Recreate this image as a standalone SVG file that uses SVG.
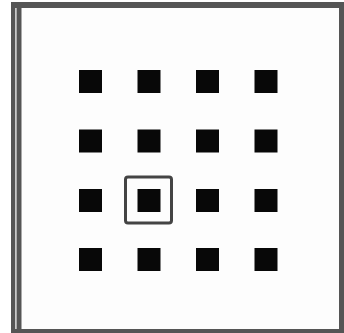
<svg xmlns="http://www.w3.org/2000/svg" width="344" height="333" viewBox="0 0 344 333">
  <style>
    .sq { fill: #080808; }
    .frame { fill: #555555; }
  </style>
  <rect x="0" y="0" width="344" height="333" fill="#ffffff"/>
  <g id="frame">
    <rect class="frame" x="11" y="2" width="333" height="331"/>
    <rect x="21.5" y="8" width="317.5" height="321" fill="#fdfdfd"/>
    <rect x="15.2" y="8" width="1.4" height="321" fill="#e6e6e6"/>
  </g>
  <g id="grid">
    <rect class="sq" x="79" y="70" width="23" height="23"/>
    <rect class="sq" x="137.5" y="70" width="23" height="23"/>
    <rect class="sq" x="196" y="70" width="23" height="23"/>
    <rect class="sq" x="254.5" y="70" width="23" height="23"/>
    <rect class="sq" x="79" y="129.5" width="23" height="23"/>
    <rect class="sq" x="137.5" y="129.5" width="23" height="23"/>
    <rect class="sq" x="196" y="129.5" width="23" height="23"/>
    <rect class="sq" x="254.5" y="129.5" width="23" height="23"/>
    <rect class="sq" x="79" y="189" width="23" height="23"/>
    <rect class="sq" x="137.5" y="189" width="23" height="23"/>
    <rect class="sq" x="196" y="189" width="23" height="23"/>
    <rect class="sq" x="254.5" y="189" width="23" height="23"/>
    <rect class="sq" x="79" y="248" width="23" height="23"/>
    <rect class="sq" x="137.5" y="248" width="23" height="23"/>
    <rect class="sq" x="196" y="248" width="23" height="23"/>
    <rect class="sq" x="254.5" y="248" width="23" height="23"/>
  </g>
  <g id="highlight">
    <rect x="125.5" y="177" width="46" height="46" rx="2.5" fill="none" stroke="#444444" stroke-width="3"/>
  </g>
</svg>
